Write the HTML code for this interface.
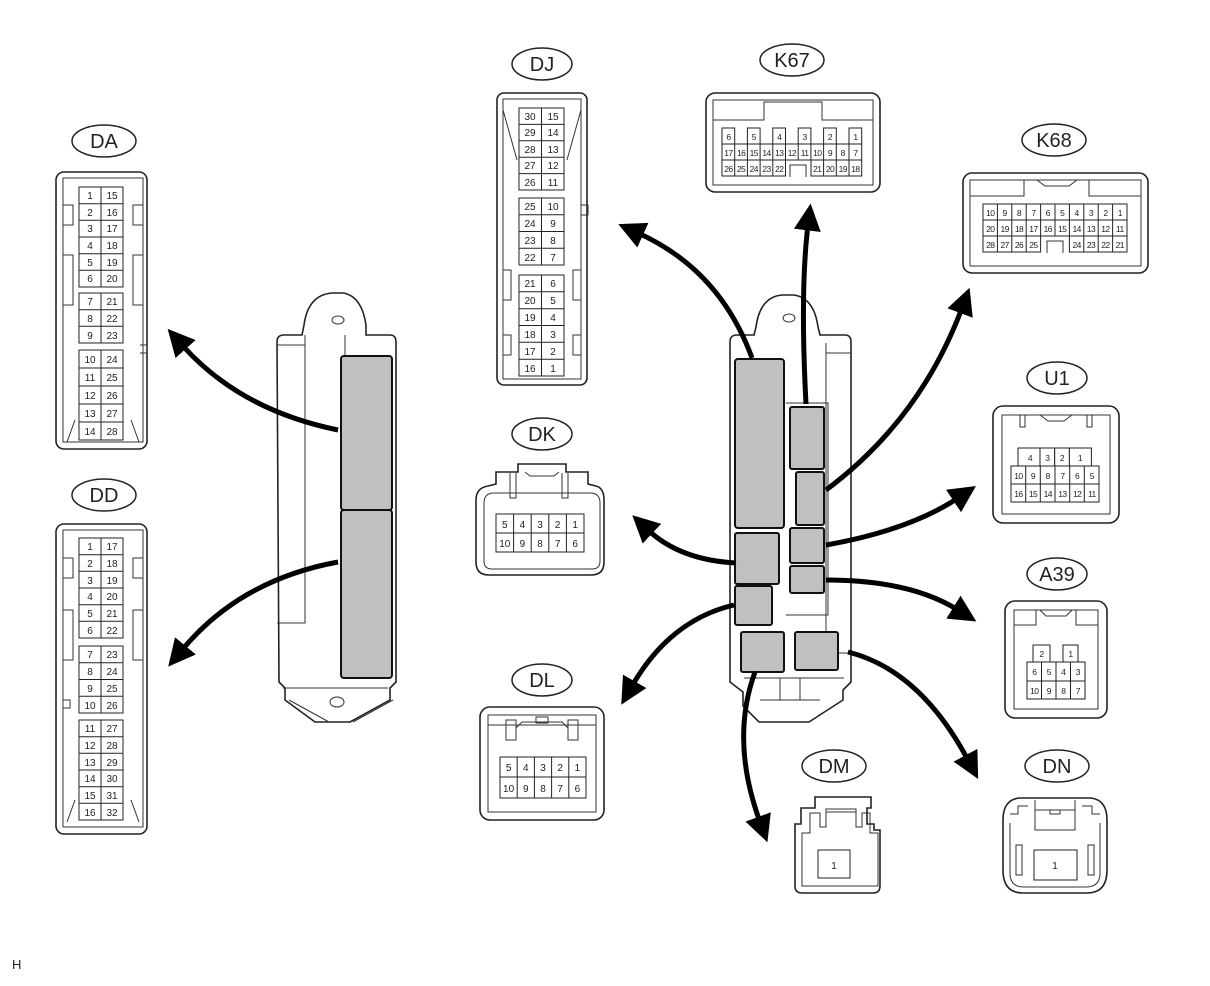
<!DOCTYPE html>
<html><head><meta charset="utf-8"><style>
html,body{margin:0;padding:0;background:#fff}
svg{display:block}
text{font-family:"Liberation Sans",sans-serif;fill:#222}
.c{font-size:10px;text-anchor:middle}
.s{font-size:8.5px;text-anchor:middle;letter-spacing:-0.6px}
.l{font-size:20px;text-anchor:middle}
.o{fill:#fff;stroke:#222;stroke-width:1.6}
.i{fill:none;stroke:#333;stroke-width:1}
.g{fill:#fff;stroke:#222;stroke-width:1}
.gl{fill:none;stroke:#222;stroke-width:1}
.gray{fill:#c0c0c0;stroke:#111;stroke-width:2}
.ar{fill:none;stroke:#000;stroke-width:5}
</style></head><body>
<svg width="1210" height="986" viewBox="0 0 1210 986" xmlns="http://www.w3.org/2000/svg">
<defs><marker id="a" viewBox="0 0 10 10" refX="2" refY="5" markerWidth="5.4" markerHeight="5.4" orient="auto" markerUnits="strokeWidth"><path d="M0,0 L10,5 L0,10 z" fill="#000"/></marker></defs>

<!-- labels -->
<g fill="#fff" stroke="#222" stroke-width="1.5">
<ellipse cx="104" cy="141" rx="32" ry="16"/><ellipse cx="104" cy="495" rx="32" ry="16"/>
<ellipse cx="542" cy="64" rx="30" ry="16"/><ellipse cx="792" cy="60" rx="32" ry="16"/>
<ellipse cx="1054" cy="140" rx="32" ry="16"/><ellipse cx="1057" cy="378" rx="30" ry="16"/>
<ellipse cx="542" cy="434" rx="30" ry="16"/><ellipse cx="1057" cy="574" rx="30" ry="16"/>
<ellipse cx="542" cy="680" rx="30" ry="16"/><ellipse cx="834" cy="766" rx="32" ry="16"/>
<ellipse cx="1057" cy="766" rx="32" ry="16"/></g>
<text class="l" x="104" y="148">DA</text><text class="l" x="104" y="502">DD</text>
<text class="l" x="542" y="71">DJ</text><text class="l" x="792" y="67">K67</text>
<text class="l" x="1054" y="147">K68</text><text class="l" x="1057" y="385">U1</text>
<text class="l" x="542" y="441">DK</text><text class="l" x="1057" y="581">A39</text>
<text class="l" x="542" y="687">DL</text><text class="l" x="834" y="773">DM</text>
<text class="l" x="1057" y="773">DN</text>

<!-- DA -->
<rect class="o" x="56" y="172" width="91" height="277" rx="8"/>
<path class="i" d="M63,178 h80 v264 h-80 z M63,205 h10 v20 h-10 M143,205 h-10 v20 h10 M63,255 h10 v50 h-10 M143,255 h-10 v50 h10 M75,420 l-8,22 M131,420 l8,22 M140,345 h7 v8 h-7"/>
<rect class="g" x="79" y="187" width="44" height="100"/><rect class="g" x="79" y="293" width="44" height="50"/><rect class="g" x="79" y="350" width="44" height="90"/>
<path class="gl" d="M101,187v100M101,293v50M101,350v90M79,203.7h44M79,220.3h44M79,237h44M79,253.7h44M79,270.3h44M79,309.7h44M79,326.3h44M79,368h44M79,386h44M79,404h44M79,422h44"/>
<g class="c"><text x="90" y="199">1</text><text x="112" y="199">15</text><text x="90" y="216">2</text><text x="112" y="216">16</text><text x="90" y="232">3</text><text x="112" y="232">17</text><text x="90" y="249">4</text><text x="112" y="249">18</text><text x="90" y="266">5</text><text x="112" y="266">19</text><text x="90" y="282">6</text><text x="112" y="282">20</text>
<text x="90" y="305">7</text><text x="112" y="305">21</text><text x="90" y="322">8</text><text x="112" y="322">22</text><text x="90" y="339">9</text><text x="112" y="339">23</text>
<text x="90" y="363">10</text><text x="112" y="363">24</text><text x="90" y="381">11</text><text x="112" y="381">25</text><text x="90" y="399">12</text><text x="112" y="399">26</text><text x="90" y="417">13</text><text x="112" y="417">27</text><text x="90" y="435">14</text><text x="112" y="435">28</text></g>

<!-- DD -->
<rect class="o" x="56" y="524" width="91" height="310" rx="8"/>
<path class="i" d="M63,530 h80 v297 h-80 z M63,558 h10 v20 h-10 M143,558 h-10 v20 h10 M63,610 h10 v50 h-10 M143,610 h-10 v50 h10 M75,800 l-8,22 M131,800 l8,22 M63,700 h7 v8 h-7"/>
<rect class="g" x="79" y="538" width="44" height="100"/><rect class="g" x="79" y="646" width="44" height="67"/><rect class="g" x="79" y="720" width="44" height="100"/>
<path class="gl" d="M101,538v100M101,646v67M101,720v100M79,554.7h44M79,571.3h44M79,588h44M79,604.7h44M79,621.3h44M79,662.7h44M79,679.5h44M79,696.2h44M79,736.7h44M79,753.3h44M79,770h44M79,786.7h44M79,803.3h44"/>
<g class="c"><text x="90" y="550">1</text><text x="112" y="550">17</text><text x="90" y="567">2</text><text x="112" y="567">18</text><text x="90" y="584">3</text><text x="112" y="584">19</text><text x="90" y="600">4</text><text x="112" y="600">20</text><text x="90" y="617">5</text><text x="112" y="617">21</text><text x="90" y="634">6</text><text x="112" y="634">22</text>
<text x="90" y="658">7</text><text x="112" y="658">23</text><text x="90" y="675">8</text><text x="112" y="675">24</text><text x="90" y="692">9</text><text x="112" y="692">25</text><text x="90" y="709">10</text><text x="112" y="709">26</text>
<text x="90" y="732">11</text><text x="112" y="732">27</text><text x="90" y="749">12</text><text x="112" y="749">28</text><text x="90" y="766">13</text><text x="112" y="766">29</text><text x="90" y="782">14</text><text x="112" y="782">30</text><text x="90" y="799">15</text><text x="112" y="799">31</text><text x="90" y="816">16</text><text x="112" y="816">32</text></g>

<!-- DJ -->
<rect class="o" x="497" y="93" width="90" height="292" rx="7"/>
<path class="i" d="M503,99 h78 v280 h-78 z M503,110 l14,50 M581,110 l-14,50 M581,205 h7 v10 h-7 M503,270 h8 v30 h-8 M581,270 h-8 v30 h8 M503,335 h8 v20 h-8 M581,335 h-8 v20 h8"/>
<rect class="g" x="519" y="108" width="45" height="82"/><rect class="g" x="519" y="198" width="45" height="67"/><rect class="g" x="519" y="275" width="45" height="101"/>
<path class="gl" d="M541.5,108v82M541.5,198v67M541.5,275v101M519,124.4h45M519,140.8h45M519,157.2h45M519,173.6h45M519,214.75h45M519,231.5h45M519,248.25h45M519,291.8h45M519,308.7h45M519,325.5h45M519,342.3h45M519,359.2h45"/>
<g class="c"><text x="530" y="120">30</text><text x="553" y="120">15</text><text x="530" y="136">29</text><text x="553" y="136">14</text><text x="530" y="153">28</text><text x="553" y="153">13</text><text x="530" y="169">27</text><text x="553" y="169">12</text><text x="530" y="186">26</text><text x="553" y="186">11</text>
<text x="530" y="210">25</text><text x="553" y="210">10</text><text x="530" y="227">24</text><text x="553" y="227">9</text><text x="530" y="244">23</text><text x="553" y="244">8</text><text x="530" y="261">22</text><text x="553" y="261">7</text>
<text x="530" y="287">21</text><text x="553" y="287">6</text><text x="530" y="304">20</text><text x="553" y="304">5</text><text x="530" y="321">19</text><text x="553" y="321">4</text><text x="530" y="338">18</text><text x="553" y="338">3</text><text x="530" y="355">17</text><text x="553" y="355">2</text><text x="530" y="372">16</text><text x="553" y="372">1</text></g>

<!-- K67 -->
<rect class="o" x="706" y="93" width="174" height="99" rx="9"/>
<path class="i" d="M713,100 h160 v85 h-160 z M713,120 h51 v-18 h58 v18 h51"/>
<g fill="#fff" stroke="#222" stroke-width="1">
<rect x="722" y="128" width="12.7" height="16"/><rect x="747.4" y="128" width="12.7" height="16"/><rect x="772.8" y="128" width="12.7" height="16"/><rect x="798.2" y="128" width="12.7" height="16"/><rect x="823.6" y="128" width="12.7" height="16"/><rect x="849" y="128" width="12.7" height="16"/>
<rect x="722" y="144" width="139.7" height="16"/><rect x="722" y="160" width="63.5" height="16"/><rect x="811" y="160" width="50.7" height="16"/></g>
<path class="gl" d="M734.7,144v32M747.4,144v32M760.1,144v32M772.8,144v32M785.5,144v16M798.2,144v16M810.9,144v16M823.6,144v32M836.3,144v32M849,144v32"/>
<path class="i" d="M790,177 v-12 h16 v12"/>
<g class="s"><text x="728.4" y="140">6</text><text x="753.8" y="140">5</text><text x="779.2" y="140">4</text><text x="804.6" y="140">3</text><text x="830" y="140">2</text><text x="855.4" y="140">1</text>
<text x="728.4" y="156">17</text><text x="741.1" y="156">16</text><text x="753.8" y="156">15</text><text x="766.5" y="156">14</text><text x="779.2" y="156">13</text><text x="791.9" y="156">12</text><text x="804.6" y="156">11</text><text x="817.3" y="156">10</text><text x="830" y="156">9</text><text x="842.7" y="156">8</text><text x="855.4" y="156">7</text>
<text x="728.4" y="172">26</text><text x="741.1" y="172">25</text><text x="753.8" y="172">24</text><text x="766.5" y="172">23</text><text x="779.2" y="172">22</text><text x="817.3" y="172">21</text><text x="830" y="172">20</text><text x="842.7" y="172">19</text><text x="855.4" y="172">18</text></g>

<!-- K68 -->
<rect class="o" x="963" y="173" width="185" height="100" rx="9"/>
<path class="i" d="M970,180 h171 v86 h-171 z M970,196 h54 v-16 M1089,180 v16 h52 M1037,180 l8,6 h24 l8,-6"/>
<g fill="#fff" stroke="#222" stroke-width="1"><rect x="983" y="204" width="144" height="32"/><rect x="983" y="236" width="57.6" height="16"/><rect x="1069.4" y="236" width="57.6" height="16"/></g>
<path class="gl" d="M983,220h144M997.4,204v48M1011.8,204v48M1026.2,204v48M1040.6,204v32M1055,204v32M1069.4,204v32M1083.8,204v48M1098.2,204v48M1112.6,204v48"/>
<path class="i" d="M1047,253 v-12 h16 v12"/>
<g class="s"><text x="990.2" y="216">10</text><text x="1004.6" y="216">9</text><text x="1019" y="216">8</text><text x="1033.4" y="216">7</text><text x="1047.8" y="216">6</text><text x="1062.2" y="216">5</text><text x="1076.6" y="216">4</text><text x="1091" y="216">3</text><text x="1105.4" y="216">2</text><text x="1119.8" y="216">1</text>
<text x="990.2" y="232">20</text><text x="1004.6" y="232">19</text><text x="1019" y="232">18</text><text x="1033.4" y="232">17</text><text x="1047.8" y="232">16</text><text x="1062.2" y="232">15</text><text x="1076.6" y="232">14</text><text x="1091" y="232">13</text><text x="1105.4" y="232">12</text><text x="1119.8" y="232">11</text>
<text x="990.2" y="248">28</text><text x="1004.6" y="248">27</text><text x="1019" y="248">26</text><text x="1033.4" y="248">25</text><text x="1076.6" y="248">24</text><text x="1091" y="248">23</text><text x="1105.4" y="248">22</text><text x="1119.8" y="248">21</text></g>

<!-- U1 -->
<rect class="o" x="993" y="406" width="126" height="117" rx="10"/>
<path class="i" d="M1002,415 h108 v99 h-108 z M1020,415 v12 h5 v-12 M1092,415 v12 h-5 v-12 M1040,415 l8,6 h16 l8,-6"/>
<g fill="#fff" stroke="#222" stroke-width="1"><rect x="1018" y="448" width="22" height="18"/><rect x="1040" y="448" width="14.7" height="18"/><rect x="1054.7" y="448" width="14.7" height="18"/><rect x="1069.4" y="448" width="22" height="18"/><rect x="1011" y="466" width="88" height="36"/></g>
<path class="gl" d="M1011,484h88M1025.7,466v36M1040.3,466v36M1055,466v36M1069.7,466v36M1084.3,466v36"/>
<g class="s"><text x="1030" y="461">4</text><text x="1047.3" y="461">3</text><text x="1062" y="461">2</text><text x="1080" y="461">1</text>
<text x="1018.4" y="479">10</text><text x="1033" y="479">9</text><text x="1047.7" y="479">8</text><text x="1062.4" y="479">7</text><text x="1077.1" y="479">6</text><text x="1091.8" y="479">5</text>
<text x="1018.4" y="497">16</text><text x="1033" y="497">15</text><text x="1047.7" y="497">14</text><text x="1062.4" y="497">13</text><text x="1077.1" y="497">12</text><text x="1091.8" y="497">11</text></g>

<!-- A39 -->
<rect class="o" x="1005" y="601" width="102" height="117" rx="10"/>
<path class="i" d="M1014,610 h84 v99 h-84 z M1014,625 h22 v-15 M1076,610 v15 h22 M1040,610 l6,6 h20 l6,-6"/>
<g fill="#fff" stroke="#222" stroke-width="1"><rect x="1033" y="645" width="17" height="17"/><rect x="1063" y="645" width="15" height="17"/><rect x="1027" y="662" width="58" height="37"/></g>
<path class="gl" d="M1027,681h58M1041.5,662v37M1056,662v37M1070.5,662v37"/>
<g class="s"><text x="1041.5" y="657">2</text><text x="1070.5" y="657">1</text>
<text x="1034.3" y="675">6</text><text x="1048.8" y="675">5</text><text x="1063.3" y="675">4</text><text x="1077.8" y="675">3</text>
<text x="1034.3" y="694">10</text><text x="1048.8" y="694">9</text><text x="1063.3" y="694">8</text><text x="1077.8" y="694">7</text></g>

<!-- DK -->
<path class="o" d="M476,500 q0,-12 12,-14 l8,-2 v-12 h22 v-8 h48 v8 h22 v12 l8,2 q8,2 8,14 v62 q0,13 -13,13 h-102 q-13,0 -13,-13 z"/>
<path class="i" d="M484,503 q0,-10 10,-10 h96 q10,0 10,10 v58 q0,8 -8,8 h-100 q-8,0 -8,-8 z M510,473 v25 h6 v-25 M568,473 v25 h-6 v-25 M525,472 l5,4 h24 l5,-4"/>
<rect class="g" x="496" y="514" width="88" height="38"/>
<path class="gl" d="M496,533h88M513.6,514v38M531.2,514v38M548.8,514v38M566.4,514v38"/>
<g class="c"><text x="504.8" y="528">5</text><text x="522.4" y="528">4</text><text x="540" y="528">3</text><text x="557.6" y="528">2</text><text x="575.2" y="528">1</text>
<text x="504.8" y="547">10</text><text x="522.4" y="547">9</text><text x="540" y="547">8</text><text x="557.6" y="547">7</text><text x="575.2" y="547">6</text></g>

<!-- DL -->
<rect class="o" x="480" y="707" width="124" height="113" rx="10"/>
<path class="i" d="M488,715 h108 v97 h-108 z M488,725 h108 M506,720 h10 v20 h-10 z M568,720 h10 v20 h-10 z M516,728 l6,-6 h40 l6,6 M536,717 h12 v6 h-12 z"/>
<rect class="g" x="500" y="757" width="86" height="41"/>
<path class="gl" d="M500,777h86M517.2,757v41M534.4,757v41M551.6,757v41M568.8,757v41"/>
<g class="c"><text x="508.6" y="771">5</text><text x="525.8" y="771">4</text><text x="543" y="771">3</text><text x="560.2" y="771">2</text><text x="577.4" y="771">1</text>
<text x="508.6" y="792">10</text><text x="525.8" y="792">9</text><text x="543" y="792">8</text><text x="560.2" y="792">7</text><text x="577.4" y="792">6</text></g>

<!-- DM -->
<path class="o" d="M795,830 v-6 h6 v-16 h14 v-11 h56 v11 h-4 v16 h7 v6 l6,0 v56 q0,7 -7,7 h-71 q-7,0 -7,-7 z"/>
<path class="i" d="M802,833 h8 v-20 h10 v14 h6 v-18 h30 v18 h6 v-14 h8 v20 h8 v53 h-76 z M826,812 h30"/>
<rect class="g" x="818" y="850" width="32" height="28"/>
<text class="c" x="834" y="869">1</text>

<!-- DN -->
<path class="o" d="M1003,820 q0,-20 16,-22 h72 q16,2 16,22 v50 q0,23 -20,23 h-64 q-20,0 -20,-23 z"/>
<path class="i" d="M1010,814 h8 v-8 h10 M1100,814 h-8 v-8 h-10 M1010,823 v50 q0,14 14,14 h62 q14,0 14,-14 v-50 M1035,800 v30 h40 v-30 M1035,810 h40 M1050,810 v4 h10 v-4 M1016,845 h6 v30 h-6 z M1088,845 h6 v30 h-6 z"/>
<rect class="g" x="1034" y="850" width="43" height="30"/>
<text class="c" x="1055" y="869">1</text>

<!-- Left ECU -->
<path class="o" d="M277,342 q0,-7 7,-7 h18 l2,-10 q4,-30 28,-32 h12 q18,4 22,32 v10 h24 q6,0 6,7 V682 l-6,6 v12 l-40,22 h-35 l-30,-22 v-12 l-6,-6 z"/>
<path class="i" d="M277,345 h28 v278 h-28 M305,345 v-10 M345,335 v20 M283,688 h105 M289,700 l40,22 M393,700 l-40,22"/>
<ellipse cx="338" cy="320" rx="6" ry="4" class="i"/><ellipse cx="337" cy="702" rx="7" ry="5" class="i"/>
<rect class="gray" x="341" y="356" width="51" height="154" rx="3"/>
<rect class="gray" x="341" y="510" width="51" height="168" rx="3"/>

<!-- Right ECU -->
<path class="o" d="M730,342 q0,-7 7,-7 h17 l2,-8 q4,-30 26,-32 h12 q20,3 24,32 l2,8 h25 q6,0 6,7 V682 l-8,8 v10 l-34,22 h-50 l-16,-16 v-14 l-13,-10 z"/>
<path class="i" d="M826,343 v10 h25 M826,353 v300 h26 M786,403 h42 v212 h-42 M744,678 h100 M780,678 v22 h20 v-22 M760,700 h60"/>
<ellipse cx="789" cy="318" rx="6" ry="4" class="i"/>
<rect class="gray" x="735" y="359" width="49" height="169" rx="3"/>
<rect class="gray" x="790" y="407" width="34" height="62" rx="2"/>
<rect class="gray" x="796" y="472" width="28" height="53" rx="2"/>
<rect class="gray" x="790" y="528" width="34" height="35" rx="2"/>
<rect class="gray" x="790" y="566" width="34" height="27" rx="2"/>
<rect class="gray" x="735" y="533" width="44" height="51" rx="2"/>
<rect class="gray" x="735" y="586" width="37" height="39" rx="2"/>
<rect class="gray" x="741" y="632" width="43" height="40" rx="2"/>
<rect class="gray" x="795" y="632" width="43" height="38" rx="2"/>

<!-- arrows -->
<g class="ar" marker-end="url(#a)">
<path d="M338,430 Q240,410 182,345"/>
<path d="M338,562 Q240,580 182,650"/>
<path d="M752,358 Q720,270 638,233"/>
<path d="M806,404 Q800,290 808,225"/>
<path d="M826,490 Q920,420 962,308"/>
<path d="M826,545 Q910,530 958,498"/>
<path d="M826,580 Q910,580 958,610"/>
<path d="M736,563 Q680,560 648,530"/>
<path d="M734,605 Q670,620 632,686"/>
<path d="M755,672 Q730,740 760,822"/>
<path d="M848,652 Q920,670 968,760"/>
</g>

<text x="12" y="969" style="font-size:13px">H</text>
</svg>
</body></html>
